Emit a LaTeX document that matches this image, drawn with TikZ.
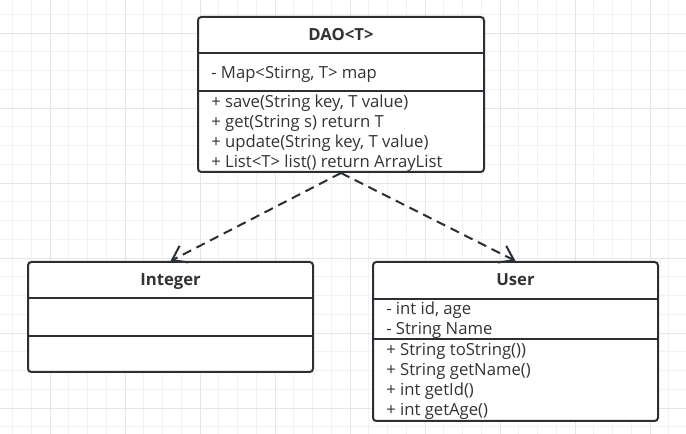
\documentclass[tikz,border=0pt]{standalone}
\usepackage{fontspec}
\setmainfont{Open Sans}
\usetikzlibrary{arrows.meta}
\definecolor{umlline}{HTML}{2B2E33}
\definecolor{umltext}{HTML}{333333}
\definecolor{gridminor}{HTML}{F2F2F2}
\definecolor{gridmajor}{HTML}{E5E5E5}
\begin{document}
\begin{tikzpicture}[x = 0.75pt, y = -0.75pt,
	cls/.style = {draw = umlline, line width = 1.5pt, fill = white, rounded corners = 2.5pt, inner sep = 0, anchor = north west},
	title/.style = {font = \fontsize{12.5}{15}\selectfont\bfseries, text = umltext, anchor = base, inner sep = 0},
	member/.style = {font = \fontsize{12.5}{15}\selectfont, text = umltext, anchor = base west, inner sep = 0},
	sep/.style = {draw = umlline, line width = 1.5pt},
	dep/.style = {draw = umlline, line width = 1.5pt, dash pattern = on 7pt off 4.5pt, -{Straight Barb[length = 10pt, width = 14pt]}}]
			\useasboundingbox (0,0) rectangle (686,434);
			\fill[white] (0,0) rectangle (686,434);
			% grid
			\foreach \k in {0,...,36} \draw[gridminor, line width = 0.75pt] (12.5+18.75*\k,0) -- ++(0,434);
			\foreach \k in {0,...,22} \draw[gridminor, line width = 0.75pt] (0,14.5+18.75*\k) -- ++(686,0);
			\foreach \k in {0,...,8} \draw[gridmajor, line width = 0.75pt] (50+75*\k,0) -- ++(0,434);
			\foreach \k in {0,...,5} \draw[gridmajor, line width = 0.75pt] (0,33.25+75*\k) -- ++(686,0);
			% classes
			\node[cls, minimum width = 214.5pt, minimum height = 116.25pt] (dao) at (197,16) {};
			\node[cls, minimum width = 213.75pt, minimum height = 82.5pt] (integer) at (27,261) {};
			\node[cls, minimum width = 213.75pt, minimum height = 119.25pt] (user) at (372,261) {};
			\draw[sep] (dao.west |- 0,53) -- (dao.east |- 0,53);
			\draw[sep] (dao.west |- 0,91) -- (dao.east |- 0,91);
			\draw[sep] (integer.west |- 0,298) -- (integer.east |- 0,298);
			\draw[sep] (integer.west |- 0,336) -- (integer.east |- 0,336);
			\draw[sep] (user.west |- 0,299) -- (user.east |- 0,299);
			\draw[sep] (user.west |- 0,339) -- (user.east |- 0,339);
			% DAO<T>
			\node[title] (daotitle) at (dao.north |- 0,40.7) {DAO<T>};
			\node[member] (daomap) at (211,78.3) {- Map<Stirng, T> map};
			\node[member] (daosave) at (211,107.5) {+ save(String key, T value)};
			\node[member] (daoget) at ([yshift = -15pt]daosave.base west) {+ get(String s) return T};
			\node[member] (daoupdate) at ([yshift = -15pt]daoget.base west) {+ update(String key, T value)};
			\node[member] (daolist) at ([yshift = -15pt]daoupdate.base west) {+ List<T> list() return ArrayList};
			% Integer
			\node[title] (integertitle) at (integer.north |- 0,286) {Integer};
			% User
			\node[title] (usertitle) at (user.north |- 0,285.7) {User};
			\node[member] (userid) at (386,315) {- int id, age};
			\node[member] (username) at ([yshift = -15pt]userid.base west) {- String Name};
			\node[member] (usertostring) at (386,356) {+ String toString())};
			\node[member] (usergetname) at ([yshift = -15pt]usertostring.base west) {+ String getName()};
			\node[member] (usergetid) at ([yshift = -15pt]usergetname.base west) {+ int getId()};
			\node[member] (usergetage) at ([yshift = -15pt]usergetid.base west) {+ int getAge()};
			% dependencies
			\draw[dep] (dao.south) -- (integer.north);
			\draw[dep] (dao.south) -- (user.north);
		\end{tikzpicture}
\end{document}
